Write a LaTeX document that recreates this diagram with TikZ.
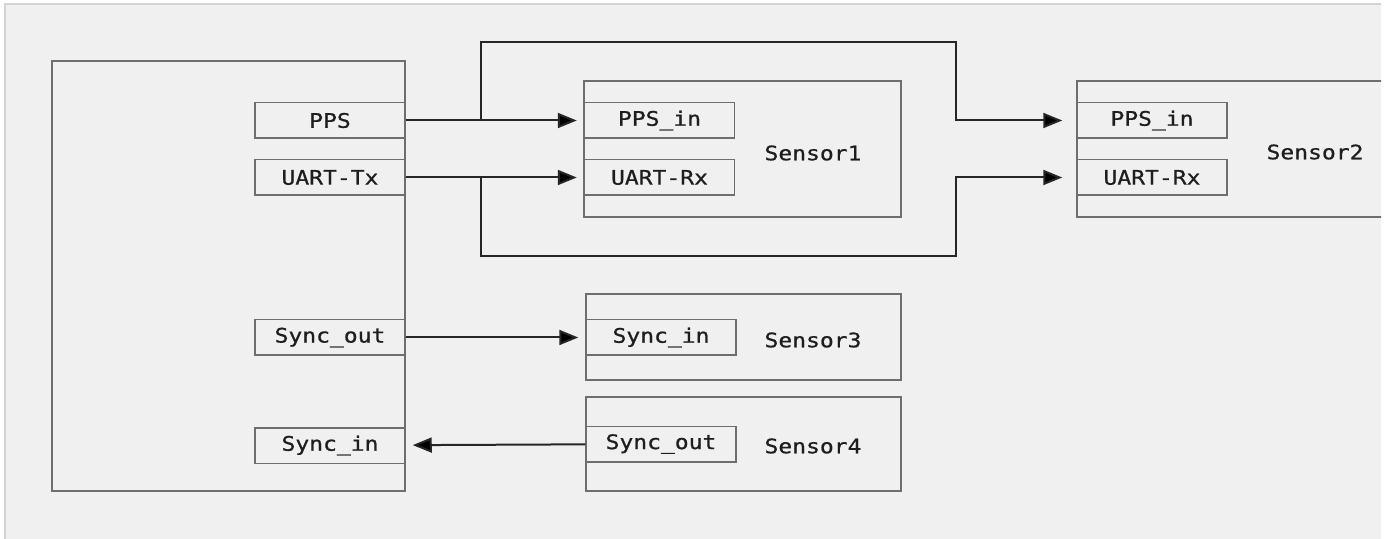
\documentclass[tikz,border=0pt]{standalone}
\usepackage{fontspec}
\setmonofont[FakeStretch=1.15,FakeBold=0.8]{DejaVu Sans Mono}
\usepackage{tikz}
\usetikzlibrary{arrows.meta,positioning}
\definecolor{boxgray}{HTML}{6E6E6E}
\definecolor{wiregray}{HTML}{262626}
\definecolor{bggray}{HTML}{F0F0F0}
\definecolor{edgegray}{HTML}{D4D4D4}
\definecolor{textgray}{HTML}{1E1E1E}
\tikzstyle{unit}=[draw=boxgray, line width=0.75pt, inner sep=0pt]
\tikzstyle{port}=[unit, minimum width=75pt, minimum height=17.75pt, text=textgray, font=\ttfamily\fontsize{10}{12}\selectfont]
\tikzstyle{tag}=[inner sep=0pt, text=textgray, font=\ttfamily\fontsize{10}{12}\selectfont]
\tikzstyle{wire}=[draw=wiregray, line width=1pt, -{Triangle[length=9.5pt,width=7.5pt,fill=black]}, shorten >=3.5pt]

\begin{document}
\begin{tikzpicture}
[x=0.5pt, y=-0.5pt, node distance=10pt]
 \useasboundingbox (0,0) rectangle (1385,539);
 \clip (0,0) rectangle (1381,539);
 \fill[white] (0,0) rectangle (1385,539);
 \filldraw[fill=bggray, draw=edgegray, line width=0.75pt] (5,4) rectangle (1390,545);
 \node[unit, minimum width=176.5pt, minimum height=215pt] (host) at (228.5,276) {};
 \node[port] (pps) at (330,120.5) {PPS};
 \node[port] (tx) [below=of pps] {UART-Tx};
 \node[port] (syncout) at (330,337.5) {Sync\_out};
 \node[port] (syncin) [below=35.5pt of syncout] {Sync\_in};
 \node[unit, minimum width=158.5pt, minimum height=68pt] (s1) at (742.5,149) {};
 \node[port] (ppsa) at (659.5,120.5) {PPS\_in};
 \node[port] (rxa) [below=of ppsa] {UART-Rx};
 \node[tag] (s1tag) at (813,153) {Sensor1};
 \node[unit, minimum width=160pt, minimum height=68pt] (s2) at (1237,149) {};
 \node[port] (ppsb) at (1152,120.5) {PPS\_in};
 \node[port] (rxb) [below=of ppsb] {UART-Rx};
 \node[tag] (s2tag) at (1315,152) {Sensor2};
 \node[unit, minimum width=157.5pt, minimum height=43pt] (s3) at (743.5,337) {};
 \node[port] (syncc) at (661,337.5) {Sync\_in};
 \node[tag] (s3tag) at (813,340) {Sensor3};
 \node[unit, minimum width=157.5pt, minimum height=47pt] (s4) at (743.5,444) {};
 \node[port] (syncd) at (661,444) {Sync\_out};
 \node[tag] (s4tag) at (813,446) {Sensor4};
 \coordinate (lt) at (481,42);
 \coordinate (rt) at (956,42);
 \coordinate (lb) at (481,256);
 \coordinate (rb) at (956,256);
 \path[wire]
   (pps) edge (ppsa)
   (tx) edge (rxa)
   (syncout) edge (syncc)
   (syncd) edge (syncin);
 \draw[wire, shorten >=7pt] (lt |- pps.east) -- (lt) -- (rt) -- (rt |- ppsb) -- (ppsb.west);
 \draw[wire, shorten >=7pt] (lb |- tx.east) -- (lb) -- (rb) -- (rb |- rxb) -- (rxb.west);
\end{tikzpicture}
\end{document}
